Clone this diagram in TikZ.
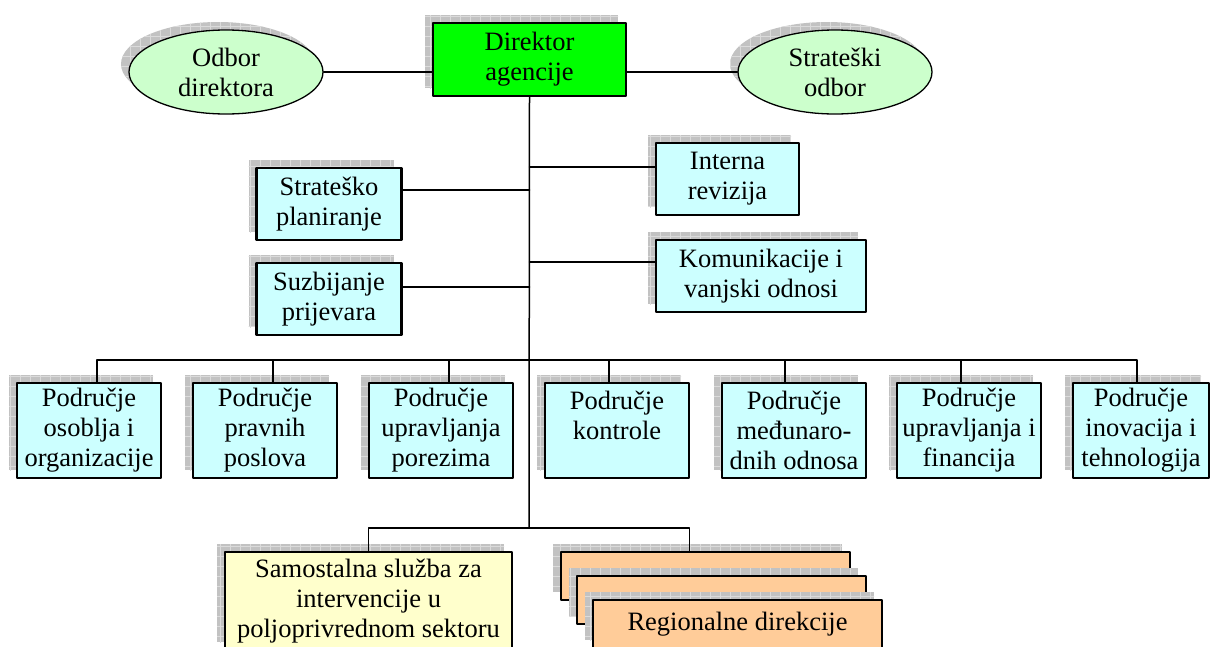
\documentclass[tikz,border=0pt]{standalone}
\usepackage{fontspec}
\setmainfont{Liberation Serif}
\usetikzlibrary{calc,shapes.geometric,shadows,patterns.meta}
\definecolor{dirgreen}{HTML}{00FF00}
\definecolor{boardgreen}{HTML}{CCFFCC}
\definecolor{unitcyan}{HTML}{CCFFFF}
\definecolor{servyellow}{HTML}{FFFFCC}
\definecolor{regorange}{HTML}{FFCC99}
\tikzset{
  shade/.style={general shadow={shadow xshift=-8pt,shadow yshift=8pt,fill=gray!48,draw=none,
    postaction={pattern={Hatch[angle=0,distance=10pt,line width=0.8pt]},pattern color=gray!28}}},
  unit/.style={draw,line width=2.2pt,fill=unitcyan,align=center,inner sep=0pt,
    minimum width=144pt,minimum height=72pt,shade},
  board/.style={ellipse,draw,line width=1.3pt,fill=boardgreen,align=center,inner sep=0pt,
    minimum width=194pt,minimum height=84pt,shade},
  link/.style={line width=1.5pt}
}
\begin{document}
\begin{tikzpicture}[x=1pt,y=-1pt,line cap=round,line join=round,
  every node/.style={font=\fontsize{26.5pt}{30pt}\selectfont}]
\useasboundingbox (0,0) rectangle (1210,646);
\coordinate (topbar) at (529,360);
\coordinate (lowbar) at (529,528);
\node[board] (odbor) at (226,72) {Odbor\\direktora};
\node[board] (strodbor) at (835,72) {Strateški\\odbor};
\node[unit,fill=dirgreen,minimum width=193pt,minimum height=73pt] (dir) at (529.5,59.5) {Direktor\\agencije};
\node[unit,minimum width=145pt] (plan) at (329,204) {Strateško\\planiranje};
\node[unit,minimum width=145pt] (fraud) at (329,299) {Suzbijanje\\prijevara};
\node[unit,minimum width=143pt] (audit) at (727.5,179) {Interna\\revizija};
\node[unit,minimum width=210pt] (comm) at (761,276) {Komunikacije i\\vanjski odnosi};
\node[unit,minimum height=95pt] (staff) at (89,430.5) {Područje\\osoblja i\\organizacije};
\node[unit,minimum height=95pt] (legal) at (265,430.5) {Područje\\pravnih\\poslova};
\node[unit,minimum height=95pt] (tax) at (441,430.5) {Područje\\upravljanja\\porezima};
\node[unit,minimum height=95pt] (ctrl) at (617,430.5) {Područje\\kontrole\\ };
\node[unit,minimum height=95pt] (intl) at (794,430.5) {Područje\\međunaro-\\dnih odnosa};
\node[unit,minimum height=95pt] (fin) at (969,430.5) {Područje\\upravljanja i\\financija};
\node[unit,minimum height=95pt,minimum width=136pt] (tech) at (1141,430.5) {Područje\\inovacija i\\tehnologija};
\node[unit,fill=servyellow,minimum width=287pt,minimum height=98pt] (agri) at (368.5,601) {Samostalna služba za\\intervencije u\\poljoprivrednom sektoru};
\node[unit,fill=regorange,minimum width=289pt,minimum height=48pt] (regA) at (705.5,576) {};
\node[unit,fill=regorange,minimum width=289pt,minimum height=48pt] (regB) at (721.5,600) {};
\node[unit,fill=regorange,minimum width=289pt,minimum height=48pt] (regC) at (737.5,624) {Regionalne direkcije};
\draw[link] (odbor) -- (odbor -| dir.west);
\draw[link] (dir.east |- strodbor) -- (strodbor);
\draw[link] (dir.south) -- (lowbar);
\draw[link] ([yshift=-23pt]plan.north east) -- ([yshift=-23pt]plan.north east -| dir.south);
\draw[link] ([yshift=-25pt]fraud.north east) -- ([yshift=-25pt]fraud.north east -| dir.south);
\draw[link] ([yshift=-25pt]audit.north west) -- ([yshift=-25pt]audit.north west -| dir.south);
\draw[link] ([yshift=-23pt]comm.north west) -- ([yshift=-23pt]comm.north west -| dir.south);
\draw[link] ([xshift=8pt]staff.north) |- (topbar) -| ([xshift=-4pt]tech.north);
\draw[link] ([xshift=8pt]legal.north) -- ([xshift=8pt]legal.north |- topbar);
\draw[link] ([xshift=8pt]tax.north) -- ([xshift=8pt]tax.north |- topbar);
\draw[link] ([xshift=-8pt]ctrl.north) -- ([xshift=-8pt]ctrl.north |- topbar);
\draw[link] ([xshift=-9pt]intl.north) -- ([xshift=-9pt]intl.north |- topbar);
\draw[link] ([xshift=-8pt]fin.north) -- ([xshift=-8pt]fin.north |- topbar);
\draw[link] (agri.north) |- (lowbar) -| ([xshift=-16pt]regA.north);
\end{tikzpicture}
\end{document}
